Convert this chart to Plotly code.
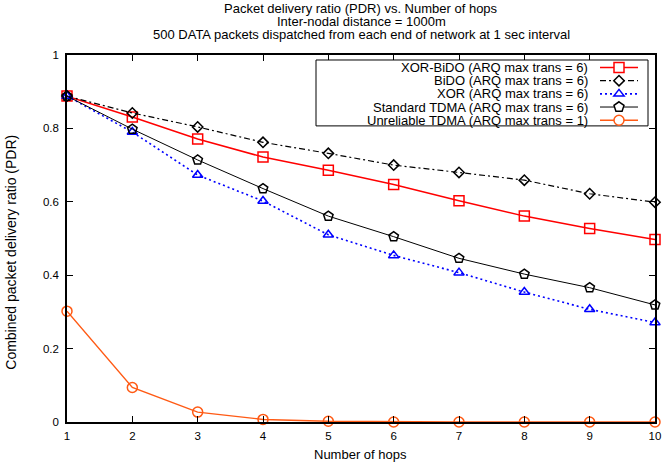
import math
import plotly.graph_objects as go

hops = [1, 2, 3, 4, 5, 6, 7, 8, 9, 10]
xor_bido = [0.888, 0.831, 0.771, 0.722, 0.686, 0.647, 0.603, 0.561, 0.527, 0.497]
bido = [0.888, 0.842, 0.804, 0.762, 0.732, 0.700, 0.680, 0.659, 0.622, 0.599]
xor = [0.888, 0.790, 0.673, 0.602, 0.510, 0.454, 0.407, 0.354, 0.307, 0.271]
std_tdma = [0.888, 0.798, 0.714, 0.636, 0.561, 0.505, 0.446, 0.403, 0.366, 0.319]
unrel_tdma = [0.302, 0.094, 0.027, 0.007, 0.002, 0.0, 0.0, 0.0, 0.0, 0.0]

names = [
    "XOR-BiDO (ARQ max trans = 6)",
    "BiDO (ARQ max trans = 6)",
    "XOR (ARQ max trans = 6)",
    "Standard TDMA (ARQ max trans = 6)",
    "Unreliable TDMA (ARQ max trans = 1)",
]
title_lines = [
    "Packet delivery ratio (PDR) vs. Number of hops",
    "Inter-nodal distance = 1000m",
    "500 DATA packets dispatched from each end of network at 1 sec interval",
]
y_ticks = [0, 0.2, 0.4, 0.6, 0.8, 1]
y_ticklabels = ["0", "0.2", "0.4", "0.6", "0.8", "1"]
x_title = "Number of hops"
y_title = "Combined packet delivery ratio (PDR)"

FONT = "Liberation Sans, Arial, sans-serif"

# plot area in pixels
PL, PR, PT, PB = 67, 655, 55, 422.5
W, H = 662, 468


def px(x):
    return (x - PL) / (PR - PL)


def py(y):
    return (PB - y) / (PB - PT)


styles = [
    dict(color="#ff0000", dash="solid", width=1.5, symbol="square-open", size=10, mk="square"),
    dict(color="#000000", dash="6px,3px,2px,3px", width=1.2, symbol="diamond-open", size=8, mk="diamond"),
    dict(color="#0000ff", dash="2px,3px", width=1.6, symbol="triangle-up-open", size=9, mk="triangle"),
    dict(color="#000000", dash="solid", width=1.0, symbol="pentagon-open", size=10, mk="pentagon"),
    dict(color="#ff5a14", dash="solid", width=1.4, symbol="circle-open", size=10, mk="circle"),
]

fig = go.Figure()
for name, ys, st in zip(names, [xor_bido, bido, xor, std_tdma, unrel_tdma], styles):
    fig.add_trace(go.Scatter(
        x=hops, y=ys, name=name, mode="lines+markers", showlegend=False,
        line=dict(color=st["color"], dash=st["dash"], width=st["width"]),
        marker=dict(symbol=st["symbol"], size=st["size"], color=st["color"],
                    line=dict(width=1.5, color=st["color"])),
        cliponaxis=False,
    ))

# titles
for t, yy in zip(title_lines, [8.7, 21.7, 34.7]):
    fig.add_annotation(text=t, xref="paper", x=0.5, yref="paper", y=py(yy),
                       yanchor="middle", xanchor="center", showarrow=False,
                       font=dict(size=13, color="black", family=FONT))

# axis titles
fig.add_annotation(text=x_title, xref="paper", x=px(360.5), yref="paper", y=py(455),
                   yanchor="middle", xanchor="center", showarrow=False,
                   font=dict(size=13, color="black", family=FONT))
fig.add_annotation(text=y_title, xref="paper", x=px(11.5), yref="paper", y=py(252.5),
                   yanchor="middle", xanchor="center", textangle=-90, showarrow=False,
                   font=dict(size=14, color="black", family=FONT))

# custom legend (text on the left, sample on the right, like gnuplot)
shapes = []
shapes.append(dict(type="rect", xref="paper", yref="paper",
                   x0=px(316), x1=px(648), y0=py(60), y1=py(126),
                   line=dict(color="black", width=1), fillcolor="white", layer="above"))
row0, step = 67.5, 13.2
lx0, lx1, mx = 600, 638, 619
for i, (name, st) in enumerate(zip(names, styles)):
    cy = row0 + i * step
    fig.add_annotation(text=name, xref="paper", x=px(589.5), yref="paper", y=py(cy),
                       xanchor="right", yanchor="middle", showarrow=False,
                       font=dict(size=13, color="black", family=FONT))
    shapes.append(dict(type="line", xref="paper", yref="paper",
                       x0=px(lx0), x1=px(lx1), y0=py(cy), y1=py(cy),
                       line=dict(color=st["color"], width=st["width"], dash=st["dash"]),
                       layer="above"))
    r = st["size"] / 2.0
    mline = dict(color=st["color"], width=1.5)
    if st["mk"] == "square":
        shapes.append(dict(type="rect", xref="paper", yref="paper",
                           x0=px(mx - r), x1=px(mx + r), y0=py(cy - r), y1=py(cy + r),
                           line=mline, fillcolor="white", layer="above"))
    elif st["mk"] == "circle":
        shapes.append(dict(type="circle", xref="paper", yref="paper",
                           x0=px(mx - r), x1=px(mx + r), y0=py(cy - r), y1=py(cy + r),
                           line=mline, fillcolor="white", layer="above"))
    else:
        if st["mk"] == "diamond":
            rd = r * 1.3
            pts = [(mx, cy - rd), (mx + rd, cy), (mx, cy + rd), (mx - rd, cy)]
        elif st["mk"] == "triangle":
            rt = r * 2 / math.sqrt(3)
            pts = [(mx - rt, cy + r / 2), (mx + rt, cy + r / 2), (mx, cy - r)]
        else:
            rp = r * 1.05
            pts = [(mx + rp * math.cos(math.radians(-90 + 72 * k)),
                    cy + rp * math.sin(math.radians(-90 + 72 * k))) for k in range(5)]
        path = "M " + " L ".join(f"{px(a):.5f},{py(b):.5f}" for a, b in pts) + " Z"
        shapes.append(dict(type="path", xref="paper", yref="paper", path=path,
                           line=mline, fillcolor="white", layer="above"))

axis_common = dict(
    showline=True, linecolor="black", linewidth=1.5, mirror="ticks",
    ticks="inside", ticklen=6, tickcolor="black", tickwidth=1,
    showgrid=False, zeroline=False, automargin=False,
    tickfont=dict(size=11.5, color="black", family=FONT),
)

fig.update_layout(
    width=W, height=H,
    margin=dict(l=PL, r=W - PR, t=PT, b=H - PB),
    paper_bgcolor="white", plot_bgcolor="white",
    font=dict(family=FONT, size=12, color="black"),
    showlegend=False,
    shapes=shapes,
    xaxis=dict(range=[1, 10], tickvals=hops, ticktext=[str(h) for h in hops],
               ticklabelstandoff=2, **axis_common),
    yaxis=dict(range=[0, 1], tickvals=y_ticks, ticktext=y_ticklabels,
               ticklabelstandoff=4, **axis_common),
)

fig.write_html(
    "out.html",
    config={"displayModeBar": False},
    post_script="document.body.style.margin='0';document.body.style.overflow='hidden';",
)
